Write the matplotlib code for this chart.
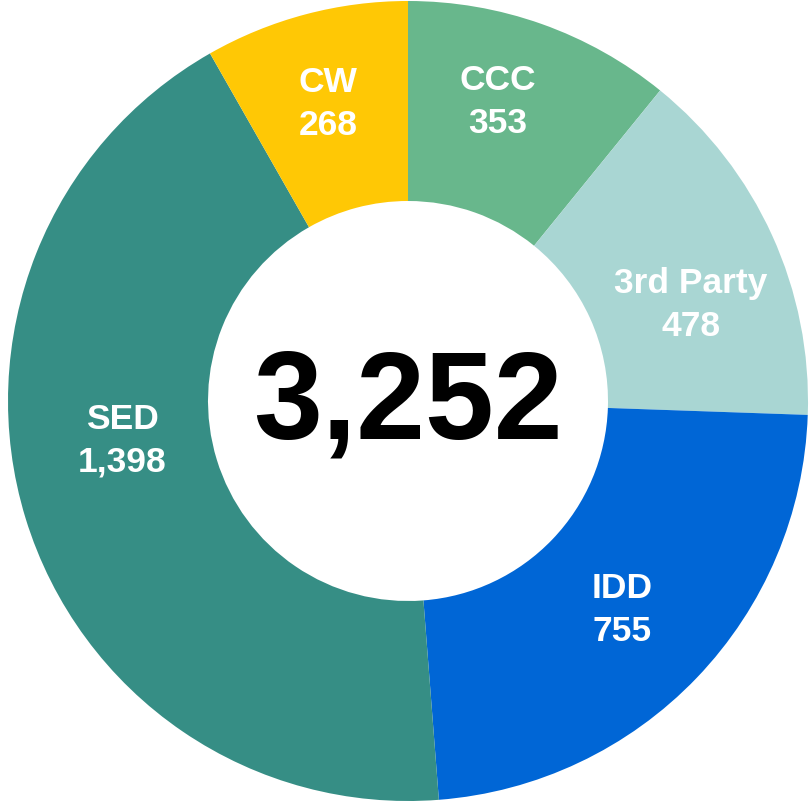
import matplotlib
matplotlib.use("Agg")
import matplotlib.pyplot as plt
import numpy as np

categories = ["CCC", "3rd Party", "IDD", "SED", "CW"]
values = [353, 478, 755, 1398, 268]
colors = ["#68B78C", "#A9D6D3", "#0066D6", "#368E85", "#FFC805"]
label_angle_nudge = [3, -5, 0, -10, 0]
label_radius = [0.79, 0.75, 0.74, 0.72, 0.78]

total = sum(values)

fig = plt.figure(figsize=(8.10, 8.03), dpi=100)
ax = fig.add_axes([0, 0, 1, 1])
ax.pie(values, colors=colors, startangle=90, counterclock=False,
       radius=1.0, wedgeprops=dict(width=0.5, edgecolor="none", linewidth=0))
ax.set_xlim(-408/400, (810-408)/400)
ax.set_ylim(-(803-402)/400, 402/400)
ax.set_aspect("equal")
ax.axis("off")

font = "Liberation Sans"
cum = 0
for i, (cat, v) in enumerate(zip(categories, values)):
    mid = 90 - (cum + v/2) / total * 360 + label_angle_nudge[i]
    cum += v
    r = label_radius[i]
    x = r * np.cos(np.radians(mid))
    y = r * np.sin(np.radians(mid)) - 0.008
    ax.text(x, y, f"{cat}\n{v:,}", ha="center", va="center", color="white",
            fontsize=25.5, fontweight="bold", family=font, linespacing=1.38)

ax.text(0, -0.012, f"{total:,}", ha="center", va="center", color="black",
        fontsize=89, fontweight="bold", family=font)

fig.savefig("out.png", dpi=100, facecolor="white")
